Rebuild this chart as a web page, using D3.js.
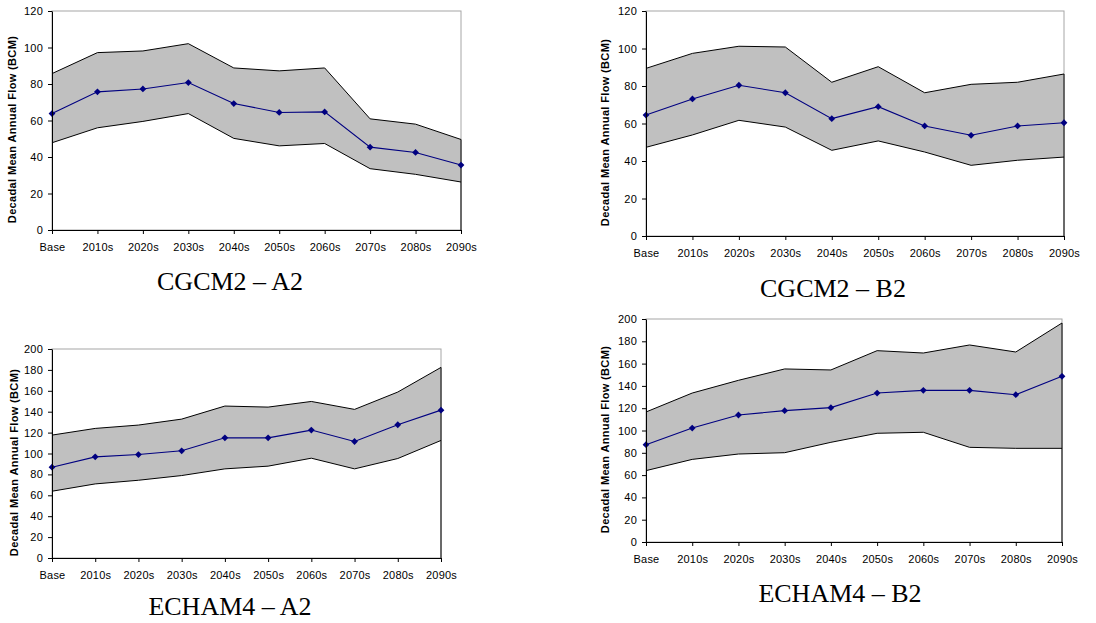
<!DOCTYPE html>
<html>
<head>
<meta charset="utf-8">
<script src="https://cdn.jsdelivr.net/npm/d3@7"></script>
<style>
  body { margin: 0; background: #fff; }
  svg { display: block; }
</style>
</head>
<body>
<svg width="1096" height="623"></svg>
<script>
// categories shared by all four panels
var categories = ["Base", "2010s", "2020s", "2030s", "2040s", "2050s", "2060s", "2070s", "2080s", "2090s"];

// CGCM2 - A2
var cgcmA2Upper = [85.7, 97.2, 98.1, 102.1, 88.8, 87.2, 88.8, 60.9, 58.0, 49.6];
var cgcmA2Mean  = [63.8, 75.7, 77.3, 80.8, 69.3, 64.4, 64.7, 45.4, 42.5, 35.6];
var cgcmA2Lower = [47.8, 56.0, 59.5, 63.8, 50.2, 46.1, 47.4, 33.6, 30.5, 26.3];

// CGCM2 - B2
var cgcmB2Upper = [89.4, 97.4, 101.2, 100.8, 82.0, 90.3, 76.4, 80.9, 82.0, 86.4];
var cgcmB2Mean  = [64.5, 73.1, 80.4, 76.4, 62.6, 69.0, 58.7, 53.7, 58.7, 60.4];
var cgcmB2Lower = [47.3, 53.9, 61.7, 58.1, 45.7, 50.7, 44.8, 37.7, 40.4, 42.1];

// ECHAM4 - A2
var echamA2Upper = [117.6, 124.0, 127.2, 132.9, 145.4, 144.4, 149.8, 142.2, 158.8, 182.4];
var echamA2Mean  = [86.9, 96.8, 99.0, 102.6, 115.0, 115.0, 122.4, 111.5, 127.5, 141.5];
var echamA2Lower = [63.9, 70.9, 74.4, 78.9, 85.3, 87.9, 95.5, 85.3, 95.2, 112.5];

// ECHAM4 - B2
var echamB2Upper = [116.6, 133.6, 145.0, 155.2, 154.3, 171.6, 169.5, 176.7, 170.4, 196.4];
var echamB2Mean  = [87.3, 102.2, 113.9, 117.8, 120.5, 133.6, 136.0, 136.0, 132.1, 148.6];
var echamB2Lower = [64.0, 74.1, 78.9, 80.1, 89.4, 97.5, 98.4, 84.9, 84.0, 84.0];

var yTicksSmall = [0, 20, 40, 60, 80, 100, 120];
var yTicksLarge = [0, 20, 40, 60, 80, 100, 120, 140, 160, 180, 200];

var yTitle = "Decadal Mean Annual Flow (BCM)";

var panels = [
  { title: "CGCM2 \u2013 A2", upper: cgcmA2Upper, mean: cgcmA2Mean, lower: cgcmA2Lower, ticks: yTicksSmall, yMax: 120,
    left: 52, right: 461, top: 11, bottom: 230, titleX: 12, capX: 230, capY: 290 },
  { title: "CGCM2 \u2013 B2", upper: cgcmB2Upper, mean: cgcmB2Mean, lower: cgcmB2Lower, ticks: yTicksSmall, yMax: 120,
    left: 646, right: 1064, top: 11, bottom: 236, titleX: 605, capX: 833, capY: 297 },
  { title: "ECHAM4 \u2013 A2", upper: echamA2Upper, mean: echamA2Mean, lower: echamA2Lower, ticks: yTicksLarge, yMax: 200,
    left: 52, right: 441, top: 349, bottom: 558, titleX: 14, capX: 230, capY: 615 },
  { title: "ECHAM4 \u2013 B2", upper: echamB2Upper, mean: echamB2Mean, lower: echamB2Lower, ticks: yTicksLarge, yMax: 200,
    left: 646, right: 1062, top: 319, bottom: 542, titleX: 605, capX: 840, capY: 602 }
];

var svg = d3.select("svg");
var sans = "'Liberation Sans', Arial, Helvetica, sans-serif";
var serif = "'Liberation Serif', 'Times New Roman', serif";

// square-ish diamond like the Excel marker
var diamond = "M0,-3.4L3.4,0L0,3.4L-3.4,0Z";

panels.forEach(function(p) {
  var x = d3.scalePoint().domain(categories).range([p.left, p.right]);
  var y = d3.scaleLinear().domain([0, p.yMax]).range([p.bottom, p.top]);
  var g = svg.append("g");

  // plot area frame (light grey top / right)
  g.append("rect")
    .attr("x", p.left).attr("y", p.top)
    .attr("width", p.right - p.left).attr("height", p.bottom - p.top)
    .attr("fill", "#fff")
    .attr("stroke", "#a6a6a6")
    .attr("stroke-width", 1);

  // grey band between lower and upper
  var band = d3.area()
    .x(function(d, i) { return x(categories[i]); })
    .y0(function(d, i) { return y(p.lower[i]); })
    .y1(function(d) { return y(d); });
  g.append("path")
    .datum(p.upper)
    .attr("d", band)
    .attr("fill", "#c0c0c0");

  var edge = d3.line()
    .x(function(d, i) { return x(categories[i]); })
    .y(function(d) { return y(d); });
  [p.upper, p.lower].forEach(function(s) {
    g.append("path")
      .datum(s)
      .attr("d", edge)
      .attr("fill", "none")
      .attr("stroke", "#000")
      .attr("stroke-width", 1);
  });

  // right edge of stacked areas
  var last = categories[categories.length - 1];
  g.append("line")
    .attr("x1", x(last)).attr("x2", x(last))
    .attr("y1", y(p.upper[p.upper.length - 1])).attr("y2", y(0))
    .attr("stroke", "#000");

  // mean line with diamond markers
  g.append("path")
    .datum(p.mean)
    .attr("d", edge)
    .attr("fill", "none")
    .attr("stroke", "#000080")
    .attr("stroke-width", 1.1);

  g.selectAll(".mk")
    .data(p.mean)
    .enter().append("path")
    .attr("d", diamond)
    .attr("transform", function(d, i) { return "translate(" + x(categories[i]) + "," + y(d) + ")"; })
    .attr("fill", "#000080");

  // axes
  var xAxis = g.append("g")
    .attr("transform", "translate(0," + p.bottom + ")")
    .call(d3.axisBottom(x).tickSize(4).tickPadding(9).tickSizeOuter(0));
  var yAxis = g.append("g")
    .attr("transform", "translate(" + p.left + ",0)")
    .call(d3.axisLeft(y).tickValues(p.ticks).tickSize(4).tickPadding(5).tickSizeOuter(0));

  [xAxis, yAxis].forEach(function(a) {
    a.select(".domain").attr("stroke", "#000");
    a.selectAll("line").attr("stroke", "#000");
    a.selectAll("text")
      .attr("font-family", sans)
      .attr("font-size", "11px")
      .attr("letter-spacing", "0.2px")
      .attr("fill", "#000");
  });

  // y axis title
  g.append("text")
    .attr("transform", "translate(" + p.titleX + "," + ((p.top + p.bottom) / 2 + 9) + ") rotate(-90)")
    .attr("text-anchor", "middle")
    .attr("dy", "0.35em")
    .attr("font-family", sans)
    .attr("font-weight", "bold")
    .attr("font-size", "11px")
    .attr("letter-spacing", "0.35px")
    .text(yTitle);

  // caption
  g.append("text")
    .attr("x", p.capX).attr("y", p.capY)
    .attr("text-anchor", "middle")
    .attr("font-family", serif)
    .attr("font-size", "26px")
    .attr("fill", "#000")
    .text(p.title);
});
</script>
</body>
</html>
